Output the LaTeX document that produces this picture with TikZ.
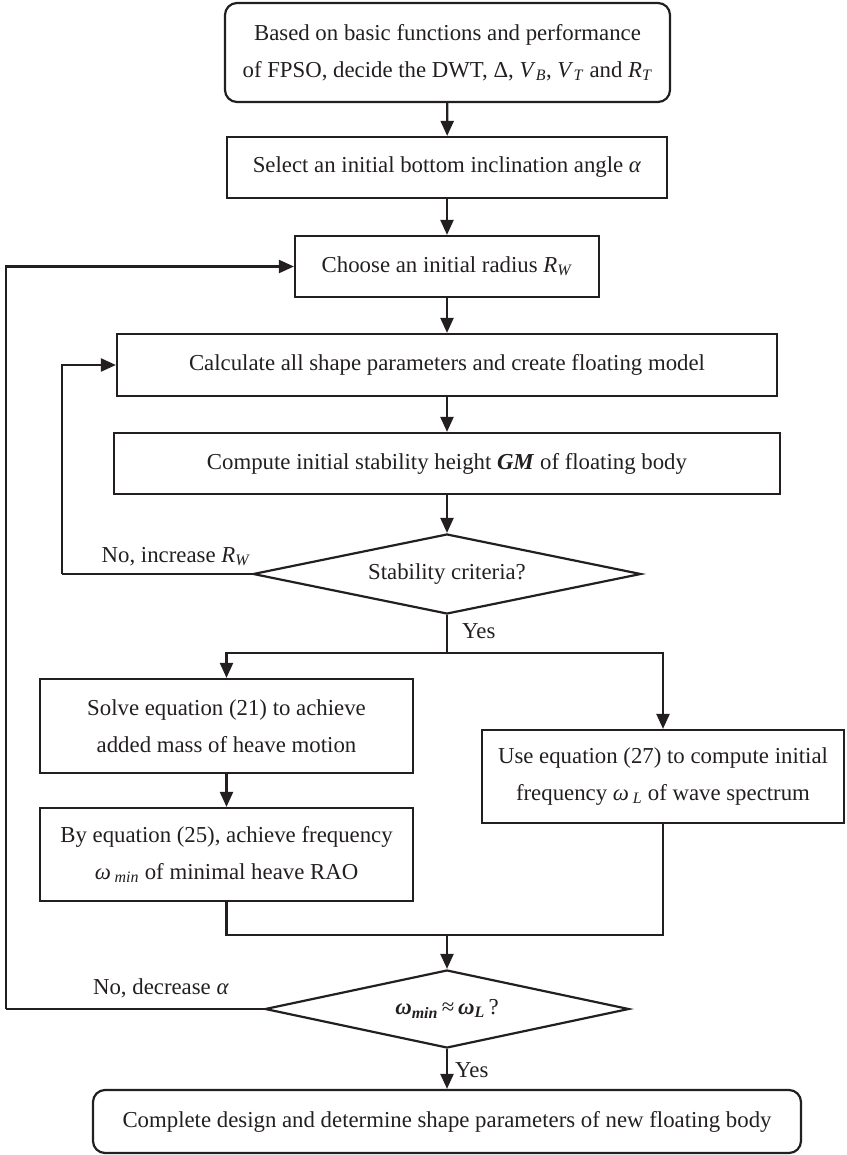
\documentclass[tikz,border=0pt]{standalone}
\usepackage{fontspec}
\setmainfont{Liberation Serif}
\usetikzlibrary{arrows.meta,shapes.geometric}
\definecolor{ink}{HTML}{231F20}
\begin{document}
\begin{tikzpicture}[x=1pt,y=-1pt,
  every node/.style={font=\fontsize{22.8}{37}\selectfont, text=ink},
  box/.style={draw=ink, line width=2.2pt, rectangle, inner sep=0pt, align=center},
  rbox/.style={box, rounded corners=12pt},
  dia/.style={draw=ink, line width=2.2pt, diamond, inner sep=0pt, aspect=4.8},
  conn/.style={draw=ink, line width=2.2pt},
  arr/.style={conn, -{Triangle[length=15pt,width=13pt]}},
  lbl/.style={inner sep=0pt}]
\useasboundingbox (0,0) rectangle (846,1155);

% nodes
\node[rbox, minimum width=445pt, minimum height=99pt] (top) at (447.5,52.5)
  {Based on basic functions and performance\\of FPSO, decide the DWT, Δ, \textit{V}\textsubscript{\textit{B}}, \textit{V}\textsubscript{\textit{T}} and \textit{R}\textsubscript{\textit{T}}};
\node[box, minimum width=440pt, minimum height=61pt] (sel) at (447,167.5)
  {Select an initial bottom inclination angle \textit{α}};
\node[box, minimum width=304pt, minimum height=61pt] (cho) at (447,266.5)
  {Choose an initial radius \textit{R}\textsubscript{\textit{W}}};
\node[box, minimum width=660pt, minimum height=62pt] (cal) at (447,365)
  {Calculate all shape parameters and create floating model};
\node[box, minimum width=666pt, minimum height=61pt] (com) at (447,463.5)
  {Compute initial stability height \textbf{\textit{GM}} of floating body};
\node[dia, minimum width=388pt, minimum height=80pt] (d1) at (447,574)
  {Stability criteria?};
\node[box, minimum width=373pt, minimum height=94pt] (sol) at (226.5,726)
  {Solve equation (21) to achieve\\added mass of heave motion};
\node[box, minimum width=373pt, minimum height=93pt] (byq) at (226.5,854.5)
  {By equation (25), achieve frequency\\\textit{ω}\,\textsubscript{\textit{min}} of minimal heave RAO};
\node[box, minimum width=362pt, minimum height=93pt] (use) at (663,776.5)
  {Use equation (27) to compute initial\\frequency \textit{ω}\,\textsubscript{\textit{L}} of wave spectrum};
\node[dia, minimum width=364pt, minimum height=78pt] (d2) at (447,1009)
  {\textbf{\textit{ω}\textsubscript{\textit{min}}}\,≈\,\textbf{\textit{ω}\textsubscript{\textit{L}}}\,?};
\node[rbox, minimum width=708pt, minimum height=63pt] (fin) at (447,1121.5)
  {Complete design and determine shape parameters of new floating body};

% helper coordinates
\coordinate (br) at (447,653);
\coordinate (mg) at (447,935);
\coordinate (l1) at (62,574);
\coordinate (l2) at (6,1009);

% connectors
\draw[arr] (top) -- (sel);
\draw[arr] (sel) -- (cho);
\draw[arr] (cho) -- (cal);
\draw[arr] (cal) -- (com);
\draw[arr] (com) -- (d1);
\draw[conn] (d1.south) -- (br);
\draw[arr] (br) -| (sol.north);
\draw[arr] (br) -| (use.north);
\draw[arr] (sol) -- (byq);
\draw[conn] (byq.south) |- (mg);
\draw[conn] (use.south) |- (mg);
\draw[arr] (mg) -- (d2.north);
\draw[arr] (d2) -- (fin);
\draw[conn] (d1.west) -- (l1);
\draw[arr] (l1) |- (cal.west);
\draw[conn] (d2.west) -- (l2);
\draw[arr] (l2) |- (cho.west);

% labels
\node[lbl, anchor=south] (n1) at (176,566) {No, increase \textit{R}\textsubscript{\textit{W}}};
\node[lbl, anchor=west] (y1) at (462,631) {Yes};
\node[lbl, anchor=south] (n2) at (161,998) {No, decrease \textit{α}};
\node[lbl, anchor=west] (y2) at (455,1070) {Yes};
\end{tikzpicture}
\end{document}
